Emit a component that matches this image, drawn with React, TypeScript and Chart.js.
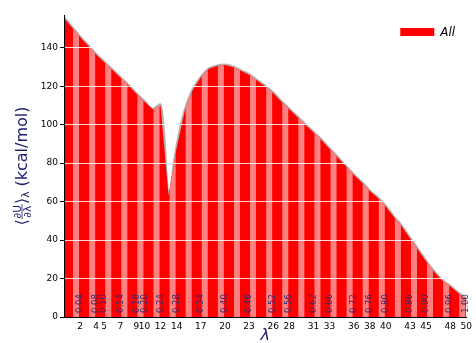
import React, { useEffect, useRef } from 'react';
import { Chart, registerables } from 'chart.js';

Chart.register(...registerables);

// Lambda states (index -> λ value)
const lambdas = [
  0.0, 0.02, 0.04, 0.06, 0.08, 0.1, 0.12, 0.14, 0.16, 0.18,
  0.2, 0.22, 0.24, 0.26, 0.28, 0.3, 0.32, 0.34, 0.36, 0.38,
  0.4, 0.42, 0.44, 0.46, 0.48, 0.5, 0.52, 0.54, 0.56, 0.58,
  0.6, 0.62, 0.64, 0.66, 0.68, 0.7, 0.72, 0.74, 0.76, 0.78,
  0.8, 0.82, 0.84, 0.86, 0.88, 0.9, 0.92, 0.94, 0.96, 0.98, 1.0,
];

// <dU/dλ> at each state, kcal/mol
const dUdl = [
  155.5, 150.5, 145.5, 141, 136.5, 132.5, 128.5, 124.5, 120.5, 116,
  112, 108, 110, 63, 88, 107, 118, 124.5, 129, 130.5,
  131, 130, 128, 126, 123, 120, 116.5, 112, 108, 104,
  100, 96, 92, 87.5, 83, 78.5, 74, 70, 65.5, 62,
  57.5, 52, 47, 41, 35, 29, 23.5, 19, 16, 12.5, 9.5,
];

// States that get an axis tick and a λ annotation
const labelledStates = [2, 4, 5, 7, 9, 10, 12, 14, 17, 20, 23, 26, 28, 31, 33, 36, 38, 40, 43, 45, 48, 50];
const yTickValues = [0, 20, 40, 60, 80, 100, 120, 140];
const seriesName = 'All';

const RED = '#ff0000';
const LIGHT_RED = '#ff8080';
const CURVE = '#b5b5b5';
const NAVY = '#1a1a6e';
const FONT = '"DejaVu Sans", "Liberation Sans", sans-serif';

// Alternate intervals are painted in the lighter shade
const stripePlugin = {
  id: 'stripes',
  afterDatasetDraw(chart: any, args: any) {
    if (args.index !== 0) return;
    const { ctx, chartArea, scales } = chart;
    const x = scales.x;
    const y = scales.y;
    const base = y.getPixelForValue(0);
    ctx.save();
    ctx.fillStyle = LIGHT_RED;
    for (let i = 1; i < dUdl.length - 1; i += 2) {
      const x0 = x.getPixelForValue(i);
      const x1 = x.getPixelForValue(i + 1);
      ctx.save();
      ctx.beginPath();
      ctx.rect(x0 + 1, chartArea.top, x1 - x0 - 2, base - chartArea.top);
      ctx.clip();
      ctx.beginPath();
      ctx.moveTo(x0, base);
      ctx.lineTo(x0, y.getPixelForValue(dUdl[i]));
      ctx.lineTo(x1, y.getPixelForValue(dUdl[i + 1]));
      ctx.lineTo(x1, base);
      ctx.closePath();
      ctx.fill();
      ctx.restore();
    }
    ctx.restore();
  },
};

// Rotated λ values written at the foot of the labelled states
const lambdaTextPlugin = {
  id: 'lambdaText',
  afterDatasetsDraw(chart: any) {
    const { ctx, scales } = chart;
    const base = scales.y.getPixelForValue(0);
    ctx.save();
    ctx.fillStyle = '#2a2a72';
    ctx.font = `8.5px ${FONT}`;
    ctx.textAlign = 'left';
    ctx.textBaseline = 'middle';
    for (const s of labelledStates) {
      const px = scales.x.getPixelForValue(s);
      ctx.save();
      ctx.translate(px, base - 4);
      ctx.rotate(-Math.PI / 2);
      ctx.fillText(lambdas[s].toFixed(2), 0, 0);
      ctx.restore();
    }
    ctx.restore();
  },
};

// Axis titles and the legend entry
const decorPlugin = {
  id: 'decor',
  afterDraw(chart: any) {
    const { ctx, chartArea } = chart;
    ctx.save();

    // legend
    const boxX = chartArea.right - 66;
    const boxY = chartArea.top + 13;
    ctx.fillStyle = RED;
    ctx.fillRect(boxX, boxY, 34, 8);
    ctx.fillStyle = '#000';
    ctx.font = `italic 12px ${FONT}`;
    ctx.textAlign = 'left';
    ctx.textBaseline = 'middle';
    ctx.fillText(chart.data.datasets[0].label, boxX + 40, boxY + 4.5);

    // x title
    ctx.fillStyle = NAVY;
    ctx.font = `italic 16px ${FONT}`;
    ctx.textAlign = 'center';
    ctx.textBaseline = 'middle';
    ctx.fillText('λ', (chartArea.left + chartArea.right) / 2, 336);

    // y title: ⟨∂U/∂λ⟩_λ (kcal/mol)
    const cy = (chartArea.top + chartArea.bottom) / 2;
    ctx.translate(26.5, cy);
    ctx.rotate(-Math.PI / 2);
    ctx.textAlign = 'left';
    ctx.textBaseline = 'alphabetic';
    ctx.strokeStyle = NAVY;
    const big = `16px ${FONT}`;
    const small = `10.5px ${FONT}`;
    ctx.font = big;
    const wL = ctx.measureText('⟨').width;
    const wR = ctx.measureText('⟩').width;
    const tail = ' (kcal/mol)';
    const wT = ctx.measureText(tail).width;
    ctx.font = small;
    const wN = ctx.measureText('∂U').width;
    const wD = ctx.measureText('∂λ').width;
    const wF = Math.max(wN, wD) + 2;
    const wS = ctx.measureText('λ').width;
    const total = wL + wF + wR + wS + wT;
    let x = -total / 2;
    ctx.font = big;
    ctx.fillText('⟨', x, 0);
    x += wL;
    const bar = -4.5;
    ctx.font = small;
    ctx.fillText('∂U', x + (wF - wN) / 2, bar - 1.5);
    ctx.fillText('∂λ', x + (wF - wD) / 2, bar + 9);
    ctx.lineWidth = 0.8;
    ctx.beginPath();
    ctx.moveTo(x, bar);
    ctx.lineTo(x + wF, bar);
    ctx.stroke();
    x += wF;
    ctx.font = big;
    ctx.fillText('⟩', x, 0);
    x += wR;
    ctx.font = small;
    ctx.fillText('λ', x, 2.5);
    x += wS;
    ctx.font = big;
    ctx.fillText(tail, x, 0);

    ctx.restore();
  },
};

export default function App() {
  const canvasRef = useRef<HTMLCanvasElement | null>(null);

  useEffect(() => {
    const canvas = canvasRef.current;
    if (!canvas) return;
    const points = dUdl.map((v, i) => ({ x: i, y: v }));

    const chart = new Chart(canvas, {
      type: 'line',
      data: {
        datasets: [
          {
            label: seriesName,
            data: points,
            fill: 'origin',
            backgroundColor: RED,
            borderWidth: 0,
            pointRadius: 0,
            tension: 0,
          },
          {
            label: 'curve',
            data: points,
            fill: false,
            borderColor: CURVE,
            borderWidth: 3,
            pointRadius: 0,
            tension: 0.4,
          },
        ],
      },
      options: {
        animation: false,
        responsive: false,
        devicePixelRatio: 1,
        layout: { padding: { top: 15, right: 8, left: 0, bottom: 0 } },
        plugins: {
          legend: { display: false },
          tooltip: { enabled: false },
        },
        scales: {
          x: {
            type: 'linear',
            min: 0,
            max: dUdl.length - 1,
            grid: { display: false, drawTicks: false, tickLength: 0 },
            border: { display: true, color: '#000', width: 1 },
            afterBuildTicks: (scale: any) => {
              scale.ticks = labelledStates.map((v) => ({ value: v }));
            },
            afterFit: (scale: any) => {
              scale.height = 26;
            },
            ticks: {
              autoSkip: false,
              maxRotation: 0,
              padding: 4,
              color: '#000',
              font: { family: FONT, size: 9 },
              callback: (v: any) => String(v),
            },
          },
          y: {
            type: 'linear',
            min: 0,
            max: 157,
            grid: {
              z: 1,
              color: (c: any) => (c.tick && c.tick.value === 0 ? 'rgba(0,0,0,0)' : 'rgba(255,255,255,0.85)'),
              tickColor: '#000',
              tickLength: 4,
              lineWidth: 1,
            },
            border: { display: true, color: '#000', width: 1, z: 2 },
            afterBuildTicks: (scale: any) => {
              scale.ticks = yTickValues.map((v) => ({ value: v }));
            },
            afterFit: (scale: any) => {
              scale.width = 64;
            },
            ticks: {
              padding: 2,
              color: '#000',
              font: { family: FONT, size: 9 },
            },
          },
        },
      },
      plugins: [stripePlugin, lambdaTextPlugin, decorPlugin],
    } as any);

    return () => chart.destroy();
  }, []);

  return (
    <div style={{ position: 'fixed', left: 0, top: 0, width: 476, height: 343, background: '#fff' }}>
      <canvas ref={canvasRef} width={476} height={343} style={{ display: 'block' }} />
    </div>
  );
}
